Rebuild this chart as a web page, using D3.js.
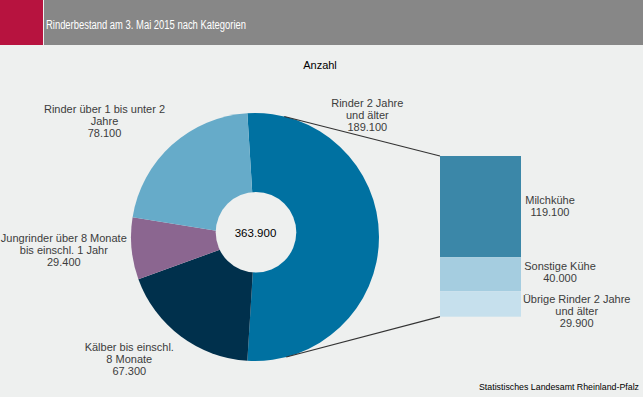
<!DOCTYPE html>
<html>
<head>
<meta charset="utf-8">
<script src="https://cdn.jsdelivr.net/npm/d3@7"></script>
<style>
html,body{margin:0;padding:0;background:#eef0ef;}
svg{display:block;font-family:"Liberation Sans",Arial,sans-serif;}
</style>
</head>
<body>
<svg id="chart" width="643" height="397"></svg>
<script>
const title = "Rinderbestand am 3. Mai 2015 nach Kategorien";
const unitLabel = "Anzahl";
const source = "Statistisches Landesamt Rheinland-Pfalz";

const pieCategories = [
  ["Rinder 2 Jahre", "und älter"],
  ["Kälber bis einschl.", "8 Monate"],
  ["Jungrinder über 8 Monate", "bis einschl. 1 Jahr"],
  ["Rinder über 1 bis unter 2", "Jahre"]
];
const pieValues = [189100, 67300, 29400, 78100];
const total = 363900;

const barCategories = [
  ["Milchkühe"],
  ["Sonstige Kühe"],
  ["Übrige Rinder 2 Jahre", "und älter"]
];
const barValues = [119100, 40000, 29900];

const pieColors = ["#0071a1", "#00304c", "#8b6690", "#66abc9"];
const barColors = ["#3b87a8", "#a5cde0", "#c6e0ed"];

const loc = d3.formatLocale({decimal: ",", thousands: ".", grouping: [3], currency: ["", "€"]});
const fmt = loc.format(",d");

const svg = d3.select("#chart");
const textColor = "#3c3c3c";

// header
svg.append("rect").attr("x", 0).attr("y", 0).attr("width", 43).attr("height", 45).attr("fill", "#b7133f");
svg.append("rect").attr("x", 44).attr("y", 0).attr("width", 599).attr("height", 45).attr("fill", "#878787");
svg.append("text").attr("x", 46).attr("y", 28.5).attr("fill", "#ffffff")
  .attr("font-size", 12.5).attr("textLength", 200).attr("lengthAdjust", "spacingAndGlyphs").text(title);

svg.append("text").attr("x", 320).attr("y", 69).attr("text-anchor", "middle")
  .attr("font-size", 11).attr("fill", "#000").text(unitLabel);

// pie
const cx = 255, cy = 237, R = 124;
const bigShare = pieValues[0] / d3.sum(pieValues);
const start = Math.PI / 2 - Math.PI * bigShare;
const pie = d3.pie().sort(null).value(d => d).startAngle(start).endAngle(start + 2 * Math.PI);
const arcs = pie(pieValues);
const arc = d3.arc().innerRadius(0).outerRadius(R);
const g = svg.append("g").attr("transform", `translate(${cx},${cy})`);
g.selectAll("path").data(arcs).join("path")
  .attr("d", arc).attr("fill", (d, i) => pieColors[i]);

// hole
svg.append("circle").attr("cx", 256).attr("cy", 232.3).attr("r", 40.3).attr("fill", "#eef0ef");
svg.append("text").attr("x", 255.5).attr("y", 236.5).attr("text-anchor", "middle")
  .attr("font-size", 11.5).attr("fill", "#000").text(fmt(total));

// bar
const barX = 440, barW = 81, barTop = 156;
const yScale = d3.scaleLinear().domain([0, d3.sum(barValues)]).range([0, 160.7]);
const cum = d3.cumsum([0, ...barValues]);
svg.selectAll("rect.bar").data(barValues).join("rect").attr("class", "bar")
  .attr("x", barX).attr("width", barW)
  .attr("y", (d, i) => barTop + yScale(cum[i]))
  .attr("height", d => yScale(d))
  .attr("fill", (d, i) => barColors[i]);

// connector lines
function circleX(y, sign) { const dy = y - cy; return cx + sign * Math.sqrt(R * R - dy * dy); }
const topY = 116.5, botY = 357;
svg.append("line").attr("x1", circleX(topY, 1)).attr("y1", topY).attr("x2", barX).attr("y2", barTop)
  .attr("stroke", "#333").attr("stroke-width", 1.2);
svg.append("line").attr("x1", circleX(botY, 1)).attr("y1", botY).attr("x2", barX).attr("y2", barTop + yScale(d3.sum(barValues)))
  .attr("stroke", "#333").attr("stroke-width", 1.2);

// labels
function label(x, yMid, lines, value) {
  const all = [...lines, fmt(value)];
  const t = svg.append("text").attr("text-anchor", "middle").attr("font-size", 11).attr("fill", textColor);
  all.forEach((l, i) => {
    t.append("tspan").attr("x", x).attr("y", yMid + 4 + i * 12).text(l);
  });
}
const pieLabelPos = [[367.3, 102.7], [129.3, 347.3], [63.8, 238.3], [104.5, 109.3]];
pieValues.forEach((v, i) => label(pieLabelPos[i][0], pieLabelPos[i][1], pieCategories[i], v));
const barLabelPos = [[550, 200.3], [560, 265.7], [576.7, 299.3]];
barValues.forEach((v, i) => label(barLabelPos[i][0], barLabelPos[i][1], barCategories[i], v));

svg.append("text").attr("x", 639).attr("y", 390).attr("font-size", 9).attr("fill", "#000")
  .attr("text-anchor", "end")
  .attr("textLength", 160).attr("lengthAdjust", "spacingAndGlyphs").text(source);
</script>
</body>
</html>
